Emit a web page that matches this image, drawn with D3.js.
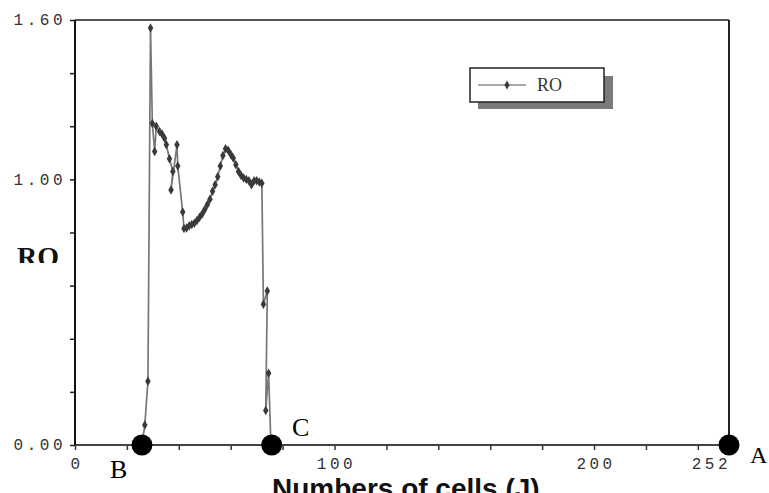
<!DOCTYPE html>
<html>
<head>
<meta charset="utf-8">
<script src="https://cdnjs.cloudflare.com/ajax/libs/d3/7.8.5/d3.min.js"></script>
<style>
body { margin: 0; background: #fff; }
svg { display: block; background: #fff; }
.tick text { font-family: "Liberation Mono", monospace; font-size: 16px; fill: #333; letter-spacing: 3.5px; }
</style>
</head>
<body>
<svg id="chart" width="769" height="493"></svg>
<script>
// J; where the curve doubles back the positions are not whole numbers
const cells = [25.8, 26.9, 28.1, 29.1, 29.8, 30.7, 31.3, 32.6, 33.6, 34.5, 35.2, 36.4, 37.7, 37.0, 39.3, 39.6, 41.5,
    42, 43, 44, 45, 46, 47, 48, 49, 50, 51, 52, 53, 54, 55, 56, 57, 58, 59, 60, 61, 62, 63, 64, 65, 66, 67, 68, 69, 70, 71, 72,
    72.6, 74.1, 73.5, 74.6, 75.5];
const ro = [0, 0.075, 0.24, 1.57, 1.21, 1.105, 1.20, 1.18, 1.17, 1.155, 1.13, 1.078, 1.03, 0.96, 1.13, 1.05, 0.877,
    0.815, 0.817, 0.825, 0.83, 0.835, 0.845, 0.857, 0.87, 0.887, 0.905, 0.925, 0.955, 0.98, 1.01, 1.05, 1.09, 1.115, 1.11, 1.095, 1.08, 1.055, 1.03, 1.015, 1.005, 1.0, 0.995, 0.98, 0.995, 0.995, 0.99, 0.985,
    0.53, 0.58, 0.13, 0.27, 0];

const yTicks = [0, 0.2, 0.4, 0.6, 0.8, 1.0, 1.2, 1.4, 1.6];
const yTickLabels = ["0.00", "", "", "", "", "1.00", "", "", "1.60"];
const xTicks = [0, 20, 40, 60, 80, 100, 120, 140, 160, 180, 200, 220, 240];
const xTickLabels = ["0", "", "", "", "", "100", "", "", "", "", "200", "", ""];
const xMax = 252;

// the three marked cells on the axis
const pointNames = ["B", "C", "A"];
const pointCells = [25.8, 75.8, 252];

const data = cells.map((j, i) => ({j: j, ro: ro[i]}));

const svg = d3.select("#chart");
let x = d3.scaleLinear().domain([0, xMax]).range([75, 729]);
let y = d3.scaleLinear().domain([0, 1.6]).range([445, 20]);

// y axis
let yAxis = d3.axisLeft(y)
    .tickValues(yTicks)
    .tickSize(5)
    .tickPadding(4)
    .tickFormat((d, i) => yTickLabels[i]);
let gy = svg.append("g").attr("transform", "translate(75,0)").call(yAxis);
gy.select(".domain").remove();
gy.selectAll(".tick line").attr("stroke", "#222").attr("stroke-width", 1.5);
gy.selectAll(".tick text").attr("dy", "0.3em");

// x axis
let xAxis = d3.axisBottom(x)
    .tickValues(xTicks)
    .tickSize(5)
    .tickPadding(5)
    .tickFormat((d, i) => xTickLabels[i]);
let gx = svg.append("g").attr("transform", "translate(0,445)").call(xAxis);
gx.select(".domain").remove();
gx.selectAll(".tick line").attr("stroke", "#333").attr("stroke-width", 1.5);
gx.selectAll(".tick text").attr("dy", "0.85em").attr("dx", "1.5px");
gx.append("text")
    .attr("class", "tick")
    .attr("x", x(xMax) + 2)
    .attr("y", 10)
    .attr("dy", "0.85em")
    .attr("text-anchor", "end")
    .style("font-family", "'Liberation Mono', monospace")
    .style("font-size", "16px")
    .style("letter-spacing", "3.5px")
    .attr("fill", "#333")
    .text(xMax);

// frame
svg.append("line").attr("x1", 75).attr("x2", 729).attr("y1", 20).attr("y2", 20).attr("stroke", "#555").attr("stroke-width", 2);
svg.append("line").attr("x1", 729).attr("x2", 729).attr("y1", 20).attr("y2", 445).attr("stroke", "#222").attr("stroke-width", 2);
svg.append("line").attr("x1", 75).attr("x2", 729).attr("y1", 445).attr("y2", 445).attr("stroke", "#444").attr("stroke-width", 2);
svg.append("line").attr("x1", 75).attr("x2", 75).attr("y1", 20).attr("y2", 445).attr("stroke", "#111").attr("stroke-width", 2);

// RO line
let line = d3.line().x(d => x(d.j)).y(d => y(d.ro));
svg.append("path")
    .datum(data)
    .attr("d", line)
    .attr("fill", "none")
    .attr("stroke", "#777")
    .attr("stroke-width", 1.7);

svg.selectAll(".pt")
    .data(data)
    .join("path")
    .attr("class", "pt")
    .attr("transform", d => `translate(${x(d.j)},${y(d.ro)})`)
    .attr("d", d3.symbol(d3.symbolDiamond).size(26))
    .attr("fill", "#3a3a3a");

// legend
svg.append("rect").attr("x", 478).attr("y", 76).attr("width", 135).attr("height", 33).attr("fill", "#7a7a7a");
svg.append("rect").attr("x", 470).attr("y", 68).attr("width", 134).attr("height", 34)
    .attr("fill", "#fff").attr("stroke", "#222").attr("stroke-width", 1.5);
svg.append("line").attr("x1", 478).attr("x2", 526).attr("y1", 85).attr("y2", 85).attr("stroke", "#555").attr("stroke-width", 1.2);
svg.append("path").attr("transform", "translate(507,85)").attr("d", d3.symbol(d3.symbolDiamond).size(24)).attr("fill", "#3a3a3a");
svg.append("text").attr("x", 537).attr("y", 91)
    .style("font-family", "'Liberation Serif', serif").style("font-size", "18px")
    .attr("fill", "#333").text("RO");

// axis titles
svg.append("clipPath").attr("id", "roClip")
    .append("rect").attr("x", 0).attr("y", 230).attr("width", 75).attr("height", 33);
svg.append("text")
    .attr("x", 17).attr("y", 266)
    .attr("clip-path", "url(#roClip)")
    .style("font-family", "'Liberation Serif', serif").style("font-size", "28px").style("font-weight", "bold")
    .attr("fill", "#111").text("RO");
svg.append("text")
    .attr("x", 272).attr("y", 498)
    .style("font-family", "'Liberation Sans', Arial, sans-serif").style("font-size", "28px").style("font-weight", "bold")
    .attr("fill", "#111").text("Numbers of cells (J)");

// B, C, A points
svg.selectAll(".mark")
    .data(pointCells)
    .join("circle")
    .attr("class", "mark")
    .attr("cx", d => x(d))
    .attr("cy", y(0))
    .attr("r", 10.5)
    .attr("fill", "#000");

const labelPos = [[110, 478, 26], [292, 436, 26], [750, 463, 24]];
svg.selectAll(".plabel")
    .data(pointNames)
    .join("text")
    .attr("class", "plabel")
    .attr("x", (d, i) => labelPos[i][0])
    .attr("y", (d, i) => labelPos[i][1])
    .style("font-family", "'Liberation Serif', serif")
    .style("font-size", (d, i) => labelPos[i][2] + "px")
    .attr("fill", "#000")
    .text(d => d);
</script>
</body>
</html>
